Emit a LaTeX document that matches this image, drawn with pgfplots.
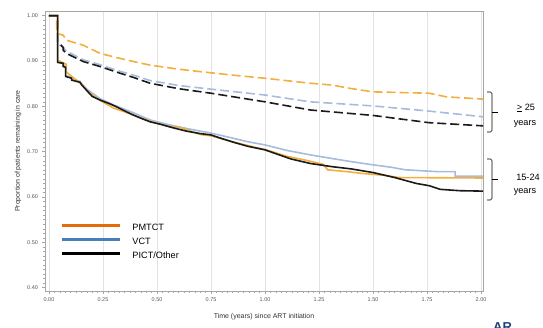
\documentclass[border=0pt]{standalone}
\usepackage{pgfplots}
\pgfplotsset{compat=1.18}
\usepackage{fontspec}
\setmainfont{Liberation Sans}
\definecolor{dorange}{HTML}{F3AE3D}
\definecolor{lblue}{HTML}{A5BCDD}
\definecolor{dblack}{HTML}{1A1A1A}
\definecolor{legorange}{HTML}{E46C0A}
\definecolor{legblue}{HTML}{4A7EBB}
\definecolor{axgray}{HTML}{A6A6A6}
\definecolor{ticklab}{HTML}{555555}
\definecolor{logoblue}{HTML}{1F3F7F}
\begin{document}
\begin{tikzpicture}
\useasboundingbox (0bp,0bp) rectangle (543bp,328bp);
\begin{axis}[
 at={(45bp,37bp)}, anchor=south west,
 scale only axis, width=438bp, height=280bp,
 xmin=-0.0185, xmax=2.009, ymin=0.3927, ymax=1.0104,
 xtick={0,0.25,...,2}, ytick={0.4,0.5,...,1.0},
 minor x tick num=9, minor y tick num=9,
 xtick pos=bottom, ytick pos=left,
 /pgf/number format/fixed, /pgf/number format/fixed zerofill,
 /pgf/number format/precision=2, /pgf/number format/assume math mode=true,
 tick label style={font=\fontsize{5.5}{6}\selectfont, text=ticklab},
 tick align=outside, major tick length=3bp, minor tick length=2bp,
 every tick/.style={axgray, line width=0.5bp},
 axis line style={axgray, line width=0.8bp},
 xmajorgrids, major grid style={gray!22, line width=0.5bp},
 xlabel={Time (years) since ART initiation},
 ylabel={Proportion of patients remaining in care},
 label style={font=\fontsize{7}{8}\selectfont, text=black!80},
 xlabel style={yshift=-4bp},
 ylabel style={yshift=-1.5bp},
 legend style={draw=none, fill=none, at={(rel axis cs:0.034,0.243)}, anchor=north west,
   font=\fontsize{9.2}{11}\selectfont, inner sep=0pt, row sep=5.6bp,
   nodes={inner sep=0pt, text height=6.8bp, text depth=1.5bp}},
 legend cell align=left,
 legend image code/.code={\draw[#1] (0bp,2.5bp) -- (58bp,2.5bp); \path (69bp,0bp);},
 line width=1.6bp,
]
% >=25 dashed
\addplot[lblue, dash pattern=on 9bp off 4bp, forget plot] coordinates {
(0,1.0) (0.04,1.0) (0.040,0.938) (0.066,0.930) (0.080,0.922) (0.158,0.903) (0.236,0.892)
(0.310,0.880) (0.390,0.869) (0.468,0.857) (0.600,0.846) (0.750,0.838) (1.000,0.825)
(1.210,0.810) (1.500,0.801) (1.750,0.790) (2.010,0.777)};
\addplot[dblack, dash pattern=on 9bp off 4bp, forget plot] coordinates {
(0,1.0) (0.04,1.0) (0.040,0.943) (0.066,0.930) (0.066,0.924) (0.080,0.917) (0.158,0.899) (0.236,0.888)
(0.310,0.876) (0.390,0.864) (0.468,0.851) (0.600,0.839) (0.750,0.829) (1.000,0.810)
(1.210,0.792) (1.500,0.780) (1.760,0.764) (2.010,0.757)};
\addplot[dorange, dash pattern=on 9bp off 4bp, forget plot] coordinates {
(0,1.0) (0.036,1.0) (0.036,0.961) (0.066,0.957) (0.080,0.946) (0.158,0.935) (0.236,0.917)
(0.310,0.908) (0.390,0.899) (0.468,0.891) (0.600,0.882) (0.750,0.874) (0.870,0.868)
(1.000,0.862) (1.210,0.851) (1.310,0.847) (1.390,0.840) (1.500,0.832) (1.760,0.829)
(1.840,0.821) (2.010,0.816)};
% 15-24 solid
\addplot[lblue, forget plot] coordinates {
(0,1.0) (0.04,1.0) (0.040,0.898) (0.066,0.895) (0.066,0.890) (0.077,0.888) (0.077,0.868)
(0.105,0.864) (0.105,0.860) (0.144,0.855) (0.150,0.850) (0.175,0.838) (0.236,0.817)
(0.300,0.803) (0.390,0.786) (0.468,0.770) (0.550,0.760) (0.650,0.750) (0.750,0.741)
(0.850,0.730) (0.920,0.722) (1.000,0.715) (1.100,0.703) (1.210,0.693) (1.310,0.685)
(1.400,0.678) (1.500,0.671) (1.580,0.666) (1.650,0.660) (1.800,0.656) (1.880,0.656)
(1.880,0.646) (2.010,0.646)};
\addplot[dorange, forget plot] coordinates {
(0,1.0) (0.04,1.0) (0.040,0.902) (0.070,0.895) (0.080,0.893) (0.080,0.876) (0.110,0.864)
(0.150,0.850) (0.180,0.832) (0.240,0.812) (0.300,0.796) (0.350,0.788) (0.400,0.779)
(0.468,0.767) (0.560,0.755) (0.610,0.753) (0.700,0.738) (0.750,0.735) (0.850,0.722)
(0.950,0.710) (1.000,0.705) (1.100,0.690) (1.200,0.680) (1.270,0.672) (1.290,0.660)
(1.380,0.656) (1.450,0.652) (1.550,0.648) (1.620,0.643) (2.010,0.642)};
\addplot[dblack, forget plot] coordinates {
(0,1.0) (0.04,1.0) (0.040,0.897) (0.066,0.895) (0.066,0.888) (0.077,0.886) (0.077,0.866)
(0.105,0.862) (0.105,0.858) (0.144,0.853) (0.150,0.848) (0.175,0.835) (0.200,0.822)
(0.236,0.814) (0.280,0.806) (0.313,0.799) (0.350,0.790) (0.390,0.781) (0.430,0.773)
(0.468,0.766) (0.520,0.760) (0.580,0.752) (0.640,0.745) (0.700,0.740) (0.750,0.737)
(0.800,0.729) (0.860,0.720) (0.920,0.712) (1.000,0.704) (1.060,0.694) (1.120,0.684)
(1.210,0.674) (1.310,0.667) (1.400,0.662) (1.500,0.654) (1.600,0.643) (1.700,0.630)
(1.760,0.625) (1.810,0.617) (1.900,0.614) (2.010,0.613)};
% legend
\addlegendimage{legorange, line width=2.8bp}
\addlegendentry{PMTCT}
\addlegendimage{legblue, line width=2.8bp}
\addlegendentry{VCT}
\addlegendimage{black, line width=2.8bp}
\addlegendentry{PICT/Other}
\end{axis}
% brackets and group labels
\draw[line width=0.6bp, rounded corners=1.5bp] (487bp,236bp) -- (492bp,236bp) -- (492bp,196bp) -- (487bp,196bp);
\draw[line width=0.6bp] (492bp,216bp) -- (498bp,216bp);
\draw[line width=0.6bp, rounded corners=1.5bp] (487bp,169bp) -- (492bp,169bp) -- (492bp,128bp) -- (487bp,128bp);
\draw[line width=0.6bp] (492bp,149bp) -- (498bp,149bp);
\node[font=\fontsize{9.2}{11}\selectfont] at (526bp,220bp) {\underline{>} 25};
\node[font=\fontsize{9.2}{11}\selectfont] at (525bp,204bp) {years};
\node[font=\fontsize{9.2}{11}\selectfont] at (528bp,151bp) {15-24};
\node[font=\fontsize{9.2}{11}\selectfont] at (525bp,136bp) {years};
\node[font=\bfseries\fontsize{13}{14}\selectfont, text=logoblue, anchor=north west, inner sep=0pt] at (493bp,6bp) {AR};
\end{tikzpicture}
\end{document}
